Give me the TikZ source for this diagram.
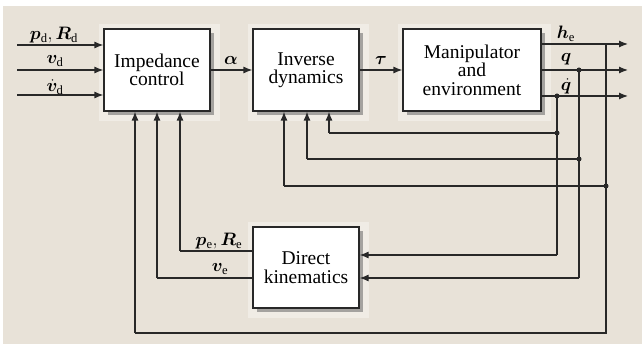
\documentclass[tikz,border=0pt]{standalone}
\usepackage{fix-cm}
\usepackage{bm}
\usepackage{fontspec}
\setmainfont{Liberation Serif}
\newfontfamily\boxfont{Liberation Serif}
\usetikzlibrary{arrows.meta,shadows,backgrounds}
\definecolor{bg}{RGB}{232,226,216}
\definecolor{halo}{RGB}{240,236,229}
\definecolor{ln}{RGB}{40,40,40}
\tikzset{
  blk/.style={draw=ln, fill=white, line width=1.2pt, align=center, inner sep=0pt,
    font=\boxfont\fontsize{19.5}{18.5}\selectfont,
    drop shadow={shadow xshift=4pt, shadow yshift=-4pt, fill=black!60, opacity=.55}},
  wire/.style={draw=ln, line width=1.2pt},
  arr/.style={wire, -{Latex[length=9pt,width=7pt]}},
  lbl/.style={font=\boxfont\fontsize{18}{18}\selectfont, inner sep=0pt},
  jdot/.style={circle, fill=ln, inner sep=0pt, minimum size=5pt}
}
\begin{document}
\begin{tikzpicture}[x=1pt,y=-1pt]
\useasboundingbox (0,0) rectangle (642,344);

% blocks
\node[blk, minimum width=106pt, minimum height=82pt] (imp) at (157,70) {Impedance\\control};
\node[blk, minimum width=106pt, minimum height=82pt] (inv) at (306,70) {Inverse\\dynamics};
\node[blk, minimum width=138pt, minimum height=82pt] (man) at (472,70) {Manipulator\\and\\environment};
\node[blk, minimum width=106pt, minimum height=81pt] (dk) at (306,267.5) {Direct\\kinematics};

\begin{scope}[on background layer]
\fill[white] (0,0) rectangle (642,344);
\fill[bg] (3,6) rectangle (642,344);
\foreach \b in {imp,inv,man,dk}{
  \fill[halo] ([shift={(-4,-4)}]\b.north west) rectangle ([shift={(9,9)}]\b.south east);
}
\end{scope}

% inputs
\coordinate (i1) at (17,45);
\coordinate (i2) at (17,70);
\coordinate (i3) at (17,95);
\draw[arr] (i1) -- (i1 -| imp.west);
\draw[arr] (i2) -- (i2 -| imp.west);
\draw[arr] (i3) -- (i3 -| imp.west);
\node[lbl, anchor=base] (li1) at (54,40) {$\bm{p}_\mathrm{d}, \bm{R}_\mathrm{d}$};
\node[lbl, anchor=base] (li2) at (55,64) {$\bm{v}_\mathrm{d}$};
\node[lbl, anchor=base] (li3) at (55,92) {$\dot{\bm{v}}_\mathrm{d}$};

% forward chain
\draw[arr] (imp.east) -- (inv.west);
\draw[arr] (inv.east) -- (man.west);
\node[lbl, anchor=base] (la) at (231,65) {$\bm{\alpha}$};
\node[lbl, anchor=base] (lt) at (381,65) {$\bm{\tau}$};

% outputs
\coordinate (oh) at (628,44);
\coordinate (oq) at (628,70);
\coordinate (oqd) at (628,96);
\draw[arr] (man.east |- oh) -- (oh);
\draw[arr] (man.east |- oq) -- (oq);
\draw[arr] (man.east |- oqd) -- (oqd);
\node[lbl, anchor=base] (lh) at (566,39) {$\bm{h}_\mathrm{e}$};
\node[lbl, anchor=base] (lq) at (566,62) {$\bm{q}$};
\node[lbl, anchor=base] (lqd) at (566,91) {$\dot{\bm{q}}$};

% junction coordinates
\coordinate (jh) at (606,44);
\coordinate (jq) at (579,70);
\coordinate (jqd) at (557,96);
\coordinate (fqd) at (557,133);
\coordinate (fq) at (579,159);
\coordinate (fh) at (606,186);
\coordinate (dqd) at (557,255);
\coordinate (dq) at (579,278);
\coordinate (bh) at (606,333);
\coordinate (bl) at (135,333);

% verticals
\draw[wire] (jqd) -- (dqd);
\draw[wire] (jq) -- (dq);
\draw[wire] (jh) -- (bh) -- (bl);
\draw[arr] (bl) -- (bl |- imp.south);

% to inverse dynamics
\coordinate (a1) at (329,133);
\coordinate (a2) at (307,159);
\coordinate (a3) at (284,186);
\draw[wire] (fqd) -- (a1);
\draw[arr] (a1) -- (a1 |- inv.south);
\draw[wire] (fq) -- (a2);
\draw[arr] (a2) -- (a2 |- inv.south);
\draw[wire] (fh) -- (a3);
\draw[arr] (a3) -- (a3 |- inv.south);

% to direct kinematics
\draw[arr] (dqd) -- (dqd -| dk.east);
\draw[arr] (dq) -- (dq -| dk.east);

% from direct kinematics
\coordinate (k1) at (180,251);
\coordinate (k2) at (157,278);
\draw[wire] (k1 -| dk.west) -- (k1);
\draw[arr] (k1) -- (k1 |- imp.south);
\draw[wire] (k2 -| dk.west) -- (k2);
\draw[arr] (k2) -- (k2 |- imp.south);
\node[lbl, anchor=base] (lpe) at (219,246) {$\bm{p}_\mathrm{e}, \bm{R}_\mathrm{e}$};
\node[lbl, anchor=base] (lve) at (220,272) {$\bm{v}_\mathrm{e}$};

% dots
\node[jdot] (d1) at (jq) {};
\node[jdot] (d2) at (jqd) {};
\node[jdot] (d3) at (fqd) {};
\node[jdot] (d4) at (fq) {};
\node[jdot] (d5) at (fh) {};
\end{tikzpicture}
\end{document}
